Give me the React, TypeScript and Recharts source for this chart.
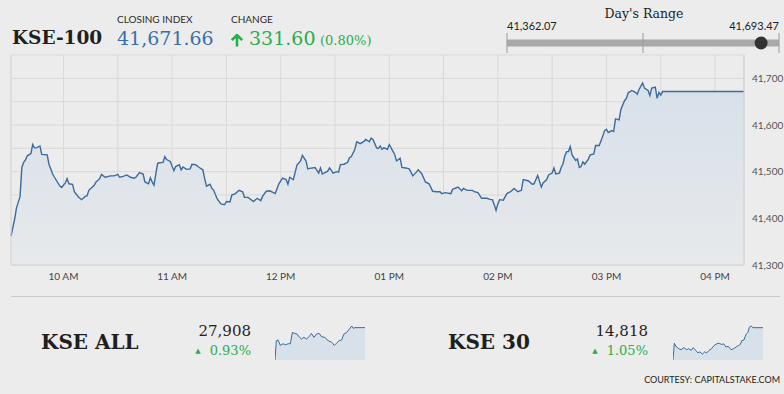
import React from "react";
import {
  AreaChart,
  Area,
  XAxis,
  YAxis,
  CartesianGrid,
  ReferenceLine,
  ComposedChart,
  Scatter,
} from "recharts";

const BG = "#ececec";
const LINE = "#3d6b9b";
const BLUE = "#3a6fa7";
const GREEN = "#2aad4c";
const GRID = "#d9d9d9";
const SERIF = "'DejaVu Serif', serif";
const SANS = "Lato, 'Open Sans', sans-serif";

// KSE-100 intraday, minutes since midnight
const kseTimes = [
  571, 573, 574, 576, 577, 578, 579, 580, 582, 583, 584, 585, 587, 588, 591, 592, 594, 595, 598, 599,
  601, 602, 603, 605, 606, 608, 610, 612, 613, 614, 617, 618, 620, 621, 623, 626, 628, 630, 631, 633,
  635, 637, 639, 640, 642, 644, 645, 647, 648, 649, 650, 652, 653, 655, 656, 657, 659, 661, 662, 664,
  665, 666, 668, 670, 671, 673, 675, 677, 678, 679, 681, 682, 683, 685, 687, 689, 690, 692, 693, 695,
  697, 699, 700, 702, 705, 707, 709, 710, 712, 714, 717, 719, 721, 723, 724, 725, 727, 729, 731, 732,
  734, 735, 736, 739, 741, 742, 743, 746, 747, 749, 751, 752, 753, 755, 757, 758, 759, 761, 762, 764,
  766, 767, 769, 770, 771, 773, 774, 775, 776, 777, 779, 780, 781, 783, 784, 786, 787, 789, 791, 793,
  795, 796, 798, 800, 802, 804, 806, 808, 809, 811, 814, 815, 818, 820, 821, 823, 826, 827, 829, 831,
  834, 836, 837, 838, 839, 840, 841, 843, 845, 847, 849, 851, 853, 854, 856, 857, 859, 860, 862, 864,
  865, 867, 868, 870, 871, 872, 874, 875, 876, 877, 878, 879, 880, 881, 883, 884, 885, 886, 887, 888,
  890, 891, 893, 894, 896, 897, 899, 900, 901, 903, 904, 905, 907, 908, 910, 911, 912, 914, 916, 917,
  918, 920, 921, 923, 924, 925, 927, 928, 929, 930, 931, 945, 960, 976,
];
const kseValues = [
  41362.07, 41398, 41422, 41447, 41509, 41520, 41525, 41534, 41539, 41558, 41551, 41551, 41555, 41537, 41536, 41516, 41495, 41488, 41469, 41466,
  41476, 41485, 41474, 41473, 41457, 41447, 41440, 41447, 41448, 41460, 41471, 41478, 41485, 41494, 41488, 41491, 41491, 41494, 41488, 41490,
  41493, 41488, 41486, 41488, 41498, 41495, 41478, 41474, 41487, 41478, 41471, 41518, 41519, 41520, 41532, 41526, 41522, 41502, 41511, 41515,
  41504, 41510, 41505, 41506, 41516, 41515, 41509, 41504, 41485, 41469, 41473, 41464, 41460, 41441, 41431, 41429, 41436, 41435, 41450, 41453,
  41460, 41457, 41445, 41445, 41436, 41443, 41438, 41447, 41458, 41459, 41453, 41474, 41486, 41483, 41473, 41488, 41483, 41514, 41523, 41535,
  41523, 41506, 41507, 41509, 41497, 41508, 41495, 41501, 41508, 41497, 41500, 41499, 41515, 41516, 41520, 41530, 41532, 41548, 41564, 41560,
  41565, 41569, 41564, 41572, 41569, 41551, 41550, 41555, 41548, 41551, 41548, 41558, 41551, 41537, 41523, 41529, 41509, 41508, 41506, 41491,
  41499, 41504, 41495, 41478, 41474, 41458, 41457, 41457, 41453, 41455, 41453, 41462, 41467, 41459, 41464, 41460, 41460, 41457, 41455, 41443,
  41443, 41440, 41440, 41429, 41417, 41431, 41440, 41439, 41453, 41457, 41464, 41457, 41460, 41483, 41481, 41480, 41473, 41474, 41492, 41467,
  41476, 41483, 41493, 41497, 41508, 41495, 41497, 41509, 41517, 41534, 41543, 41543, 41554, 41536, 41524, 41527, 41509, 41511, 41521, 41516,
  41527, 41536, 41538, 41556, 41556, 41566, 41588, 41591, 41584, 41588, 41586, 41613, 41611, 41634, 41652, 41657, 41669, 41674, 41670, 41666,
  41676, 41690, 41679, 41674, 41663, 41679, 41681, 41657, 41670, 41664, 41671.66, 41671.66, 41671.66, 41671.66,
];
const yTicks = [41300, 41350, 41400, 41450, 41500, 41550, 41600, 41650, 41700, 41750];
const xTicks = [600, 630, 660, 690, 720, 750, 780, 810, 840, 870, 900, 930, 960];

const kseAllTimes = [
  571, 577, 585, 595, 607, 619, 630, 640, 649, 660, 670, 682, 690, 701, 713, 728, 735, 746, 758, 770,
  780, 795, 810, 826, 838, 848, 860, 871, 881, 893, 905, 916, 923, 931, 976,
];
const kseAllValues = [
  27651, 27805, 27810, 27767, 27780, 27772, 27780, 27780, 27869, 27862, 27857, 27831, 27818, 27831, 27818, 27844, 27862, 27831, 27857, 27862,
  27836, 27831, 27805, 27792, 27767, 27785, 27805, 27810, 27857, 27869, 27895, 27921, 27903, 27908, 27908,
];
const kse30Times = [
  571, 577, 586, 597, 607, 620, 632, 642, 653, 662, 673, 683, 692, 703, 714, 723, 733, 744, 756, 768,
  779, 789, 799, 809, 820, 832, 844, 855, 865, 874, 880, 890, 900, 908, 915, 923, 931, 976,
];
const kse30Values = [
  14664, 14744, 14726, 14718, 14713, 14723, 14713, 14718, 14710, 14723, 14710, 14698, 14703, 14692, 14703, 14698, 14710, 14718, 14733, 14741,
  14744, 14738, 14741, 14726, 14729, 14713, 14718, 14726, 14733, 14738, 14756, 14759, 14787, 14795, 14821, 14826, 14818, 14818,
];

const closingIndex = 41671.66;
const change = 331.6;
const changePct = 0.8;
const dayLow = 41362.07;
const dayHigh = 41693.47;

const kseData = kseTimes.map((t, i) => ({ t, v: kseValues[i] }));
const kseAllData = kseAllTimes.map((t, i) => ({ t, v: kseAllValues[i] }));
const kse30Data = kse30Times.map((t, i) => ({ t, v: kse30Values[i] }));

const fmt = (n: number, d = 0) =>
  n.toLocaleString("en-US", { minimumFractionDigits: d, maximumFractionDigits: d });

function hourLabel(t: number) {
  if (t % 60 !== 0) return "";
  const h = t / 60;
  const h12 = h > 12 ? h - 12 : h;
  return `${String(h12).padStart(2, "0")} ${h >= 12 ? "PM" : "AM"}`;
}

function Spark({ data, left }: { data: { t: number; v: number }[]; left: number }) {
  return (
    <div style={{ position: "absolute", left, top: 325 }}>
      <AreaChart width={90} height={35} data={data} margin={{ top: 1, right: 0, left: 0, bottom: 0 }}>
        <XAxis dataKey="t" type="number" domain={["dataMin", "dataMax"]} hide />
        <YAxis domain={["dataMin", "dataMax"]} hide width={0} />
        <Area
          type="linear"
          dataKey="v"
          stroke={LINE}
          strokeWidth={1}
          fill="#d8e0e9"
          fillOpacity={1}
          dot={false}
          activeDot={false}
          isAnimationActive={false}
        />
      </AreaChart>
    </div>
  );
}

function RangeBar() {
  const mid = (dayLow + dayHigh) / 2;
  return (
    <div style={{ position: "absolute", left: 506, top: 33 }}>
      <ComposedChart width={274} height={20} margin={{ top: 0, right: 1, left: 1, bottom: 0 }}>
        <XAxis dataKey="x" type="number" domain={[dayLow, dayHigh]} hide />
        <YAxis dataKey="y" type="number" domain={[-1, 1]} hide width={0} />
        <ReferenceLine y={0} stroke="#a9a9a9" strokeWidth={7} />
        <ReferenceLine x={dayLow} stroke="#9a9a9a" />
        <ReferenceLine x={mid} stroke="#9a9a9a" />
        <ReferenceLine x={dayHigh} stroke="#9a9a9a" />
        <Scatter
          data={[{ x: closingIndex, y: 0 }]}
          isAnimationActive={false}
          shape={(p: any) => <circle cx={p.cx} cy={p.cy} r={6.5} fill="#333" />}
        />
      </ComposedChart>
    </div>
  );
}

const abs = (left: number, top: number, extra: React.CSSProperties = {}): React.CSSProperties => ({
  position: "absolute",
  left,
  top,
  lineHeight: 1,
  whiteSpace: "nowrap",
  ...extra,
});

export default function App() {
  return (
    <div
      style={{
        position: "absolute",
        left: 0,
        top: 0,
        width: 784,
        height: 394,
        background: BG,
        overflow: "hidden",
        fontFamily: SANS,
      }}
    >
      <div style={{ position: "absolute", left: 0, top: 0 }}>
        <AreaChart width={784} height={290} data={kseData} margin={{ top: 55, right: 0, left: 11, bottom: 0 }}>
          <defs>
            <linearGradient id="kseFill" x1="0" y1="0" x2="0" y2="1">
              <stop offset="0%" stopColor="#d7e0ea" />
              <stop offset="100%" stopColor="#e7e9eb" />
            </linearGradient>
          </defs>
          <CartesianGrid stroke={GRID} />
          <XAxis
            dataKey="t"
            type="number"
            domain={["dataMin", "dataMax"]}
            ticks={xTicks}
            interval={0}
            tickFormatter={hourLabel}
            tickLine={false}
            tickMargin={2}
            axisLine={{ stroke: "#cfcfcf" }}
            height={25}
            tick={{ fontSize: 10, fill: "#444", fontFamily: SANS }}
          />
          <YAxis
            orientation="right"
            type="number"
            domain={[41300, 41750]}
            ticks={yTicks}
            interval={0}
            tickFormatter={(v: number) => (v % 100 === 0 && v < 41750 ? fmt(v) : "")}
            tickLine={false}
            axisLine={false}
            width={40}
            tick={{ fontSize: 10, fill: "#555", fontFamily: SANS, textAnchor: "start" }}
          />
          <ReferenceLine x={kseTimes[0]} stroke={GRID} />
          <ReferenceLine x={kseTimes[kseTimes.length - 1]} stroke="#cfcfcf" />
          <Area
            type="linear"
            dataKey="v"
            stroke={LINE}
            strokeWidth={1.4}
            fill="url(#kseFill)"
            fillOpacity={1}
            dot={false}
            activeDot={false}
            isAnimationActive={false}
          />
        </AreaChart>
      </div>

      {/* header */}
      <div style={abs(12, 29, { fontFamily: SERIF, fontWeight: 700, fontSize: 18.5, color: "#1f1f1f" })}>KSE-100</div>
      <div style={abs(117, 14, { fontSize: 10, color: "#2b2b2b" })}>CLOSING INDEX</div>
      <div style={abs(117, 29, { fontFamily: SERIF, fontSize: 19, color: BLUE })}>{fmt(closingIndex, 2)}</div>
      <div style={abs(231, 14, { fontSize: 10, color: "#2b2b2b" })}>CHANGE</div>
      <svg style={{ position: "absolute", left: 230, top: 34 }} width={14} height={13} viewBox="0 0 14 13">
        <path d="M7 1 L7 12.5 M1.8 6.2 L7 1 L12.2 6.2" stroke={GREEN} strokeWidth={2.6} fill="none" />
      </svg>
      <div style={abs(249, 29, { fontFamily: SERIF, fontSize: 19, color: GREEN })}>{fmt(change, 2)}</div>
      <div style={abs(320, 34, { fontFamily: SERIF, fontSize: 13, color: GREEN })}>({fmt(changePct, 2)}%)</div>

      <div style={abs(582, 8, { fontFamily: SERIF, fontSize: 12.5, color: "#222", width: 124, textAlign: "center" })}>
        Day's Range
      </div>
      <div style={abs(507, 20, { fontSize: 11, color: "#222" })}>{fmt(dayLow, 2)}</div>
      <div style={abs(679, 20, { fontSize: 11, color: "#222", width: 100, textAlign: "right" })}>{fmt(dayHigh, 2)}</div>
      <RangeBar />

      {/* bottom */}
      <div style={{ position: "absolute", left: 11, top: 296, width: 769, height: 1, background: "#cbcbcb" }} />

      <div style={abs(41, 332, { fontFamily: SERIF, fontWeight: 700, fontSize: 20, color: "#1f1f1f" })}>KSE ALL</div>
      <div style={abs(151, 324, { fontFamily: SERIF, fontSize: 15, color: "#1f1f1f", width: 100, textAlign: "right" })}>
        {fmt(kseAllValues[kseAllValues.length - 1])}
      </div>
      <div style={abs(151, 344, { fontFamily: SERIF, fontSize: 13, color: GREEN, width: 100, textAlign: "right" })}>
        <span style={{ fontSize: 7, verticalAlign: 2, marginRight: 9 }}>▲</span>0.93%
      </div>
      <Spark data={kseAllData} left={275} />

      <div style={abs(448, 332, { fontFamily: SERIF, fontWeight: 700, fontSize: 20, color: "#1f1f1f" })}>KSE 30</div>
      <div style={abs(548, 324, { fontFamily: SERIF, fontSize: 15, color: "#1f1f1f", width: 100, textAlign: "right" })}>
        {fmt(kse30Values[kse30Values.length - 1])}
      </div>
      <div style={abs(548, 344, { fontFamily: SERIF, fontSize: 13, color: GREEN, width: 100, textAlign: "right" })}>
        <span style={{ fontSize: 7, verticalAlign: 2, marginRight: 9 }}>▲</span>1.05%
      </div>
      <Spark data={kse30Data} left={673} />

      <div style={abs(580, 375, { fontSize: 9, color: "#222", width: 200, textAlign: "right" })}>
        COURTESY: CAPITALSTAKE.COM
      </div>
    </div>
  );
}
